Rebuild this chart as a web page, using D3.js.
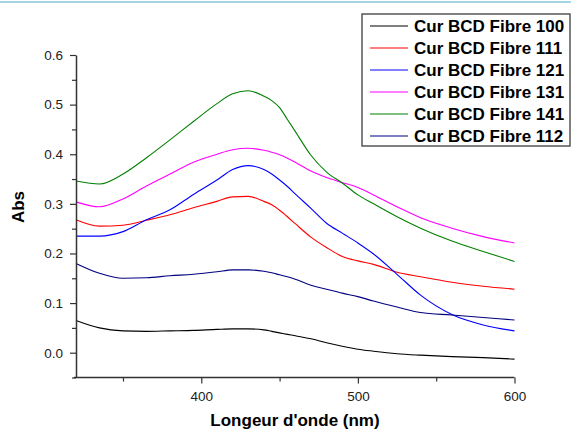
<!DOCTYPE html>
<html><head><meta charset="utf-8">
<script src="https://cdn.jsdelivr.net/npm/d3@7"></script>
<style>body{margin:0;background:#fff}svg{display:block}</style>
</head><body>
<svg id="c" width="571" height="430"></svg>
<script>
const wavelengths = [320,335,350,365,380,395,410,420,430,440,445,450,455,460,470,480,490,500,510,525,540,560,580,600];
const s100 = [0.065,0.050,0.044,0.043,0.044,0.045,0.047,0.048,0.048,0.046,0.043,0.040,0.037,0.034,0.028,0.020,0.013,0.007,0.003,-0.002,-0.005,-0.008,-0.010,-0.013];
const s111 = [0.268,0.255,0.257,0.267,0.278,0.292,0.305,0.314,0.315,0.305,0.298,0.287,0.274,0.260,0.233,0.212,0.194,0.185,0.178,0.162,0.153,0.142,0.134,0.128];
const s121 = [0.235,0.235,0.244,0.268,0.288,0.319,0.348,0.369,0.377,0.369,0.360,0.348,0.335,0.320,0.291,0.261,0.241,0.221,0.199,0.158,0.116,0.077,0.056,0.044];
const s131 = [0.304,0.294,0.310,0.336,0.360,0.384,0.400,0.409,0.412,0.408,0.404,0.399,0.392,0.384,0.366,0.353,0.343,0.333,0.318,0.294,0.272,0.251,0.234,0.221];
const s141 = [0.346,0.340,0.360,0.393,0.429,0.466,0.502,0.522,0.528,0.517,0.508,0.494,0.470,0.446,0.398,0.364,0.342,0.318,0.300,0.274,0.251,0.225,0.204,0.184];
const s112 = [0.180,0.160,0.150,0.151,0.155,0.158,0.163,0.167,0.167,0.164,0.161,0.157,0.153,0.148,0.136,0.128,0.120,0.113,0.104,0.092,0.081,0.076,0.071,0.066];
const seriesNames = ["Cur BCD Fibre 100","Cur BCD Fibre 111","Cur BCD Fibre 121","Cur BCD Fibre 131","Cur BCD Fibre 141","Cur BCD Fibre 112"];
const seriesValues = [s100,s111,s121,s131,s141,s112];
const seriesColors = ["#000000","#ff0000","#0000ff","#ff00ff","#008000","#000080"];
const xTicks = [400,500,600];
const xMinorTicks = [350,450,550];
const yTicks = [0.0,0.1,0.2,0.3,0.4,0.5,0.6];
const yMinorTicks = [-0.05,0.05,0.15,0.25,0.35,0.45,0.55];

const svg = d3.select("#c");
svg.append("rect").attr("x",0).attr("y",1).attr("width",571).attr("height",2).attr("fill","#a3d5e3");

const x = d3.scaleLinear().domain([320,600]).range([76,514.5]);
const y = d3.scaleLinear().domain([-0.05,0.6]).range([377.5,55]);
const font = "'Liberation Sans', Arial, sans-serif";

// curves
const line = d3.line().x(d=>x(d[0])).y(d=>y(d[1])).curve(d3.curveMonotoneX);
seriesValues.forEach((vals,i)=>{
  svg.append("path").datum(wavelengths.map((w,j)=>[w,vals[j]]))
    .attr("d",line).attr("fill","none").attr("stroke",seriesColors[i]).attr("stroke-width",1.1);
});

// axes
const axisColor = "#333";
const gx = svg.append("g").attr("transform","translate(0,377.5)");
gx.call(d3.axisBottom(x).tickValues(xTicks).tickSize(6).tickSizeOuter(0).tickFormat(d3.format("d")));
const gxm = svg.append("g").attr("transform","translate(0,377.5)");
gxm.call(d3.axisBottom(x).tickValues(xMinorTicks).tickSize(4).tickSizeOuter(0).tickFormat(""));
gxm.select(".domain").remove();
const gy = svg.append("g").attr("transform","translate(76,0)");
gy.call(d3.axisLeft(y).tickValues(yTicks).tickSize(6).tickSizeOuter(0).tickFormat(d3.format(".1f")));
const gym = svg.append("g").attr("transform","translate(76,0)");
gym.call(d3.axisLeft(y).tickValues(yMinorTicks).tickSize(4).tickSizeOuter(0).tickFormat(""));
gym.select(".domain").remove();
svg.selectAll(".domain").attr("stroke",axisColor).attr("stroke-width",1.5);
svg.selectAll(".tick line").attr("stroke",axisColor).attr("stroke-width",1.2);
svg.selectAll(".tick text").attr("font-family",font).attr("font-size",13.5).attr("fill","#222");
gy.selectAll(".tick text").attr("x",-13);
gx.selectAll(".tick text").attr("dy","1.05em");
gx.select(".domain").attr("d","M74,0H514.5");

// titles
svg.append("text").attr("x",295).attr("y",426).attr("text-anchor","middle")
  .attr("font-family",font).attr("font-weight","bold").attr("font-size",17).text("Longeur d'onde (nm)");
svg.append("text").attr("transform","translate(24,207) rotate(-90)").attr("text-anchor","middle")
  .attr("font-family",font).attr("font-weight","bold").attr("font-size",17).text("Abs");

// legend
const lg = svg.append("g");
lg.append("rect").attr("x",362).attr("y",14).attr("width",208).attr("height",132)
  .attr("fill","#fff").attr("stroke","#555").attr("stroke-width",1.5);
seriesNames.forEach((n,i)=>{
  const cy = 26 + i*22;
  lg.append("line").attr("x1",370).attr("x2",408).attr("y1",cy).attr("y2",cy)
    .attr("stroke",seriesColors[i]).attr("stroke-width",1.2);
  lg.append("text").attr("x",414).attr("y",cy+6).attr("font-family",font).attr("font-weight","bold")
    .attr("font-size",17).text(n);
});
</script>
</body></html>
